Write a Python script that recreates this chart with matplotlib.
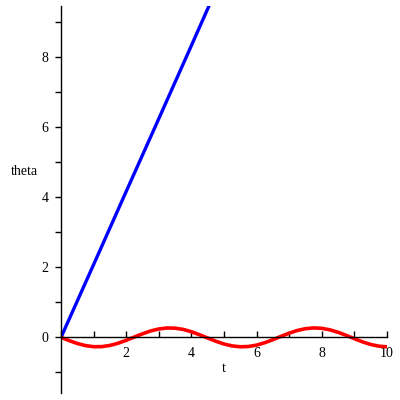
import matplotlib.pyplot as plt
from matplotlib.ticker import MultipleLocator

# red curve, every 0.25 in t
t_red = [0, 0.25, 0.5, 0.75, 1.0, 1.25, 1.5, 1.75, 2.0, 2.25, 2.5, 2.75,
         3.0, 3.25, 3.5, 3.75, 4.0, 4.25, 4.5, 4.75, 5.0, 5.25, 5.5, 5.75,
         6.0, 6.25, 6.5, 6.75, 7.0, 7.25, 7.5, 7.75, 8.0, 8.25, 8.5, 8.75,
         9.0, 9.25, 9.5, 9.75, 10.0]
theta_red = [0, -0.093, -0.175, -0.235, -0.267, -0.265, -0.231, -0.168,
             -0.084, 0.010, 0.102, 0.183, 0.240, 0.268, 0.263, 0.227,
             0.161, 0.075, -0.019, -0.111, -0.190, -0.244, -0.269, -0.261,
             -0.222, -0.153, -0.066, 0.029, 0.120, 0.197, 0.248, 0.270,
             0.258, 0.215, 0.145, 0.056, -0.038, -0.129, -0.203, -0.252,
             -0.270]

# blue curve (almost a straight line)
t_blue = [0, 1, 2, 3, 4, 4.6]
theta_blue = [0, 2.08, 4.17, 6.25, 8.34, 9.6]

x_ticks = [2, 4, 6, 8, 10]
y_ticks = [0, 2, 4, 6, 8]

plt.rcParams['font.family'] = ['Liberation Serif', 'DejaVu Serif']

fig = plt.figure(figsize=(4, 4), dpi=100)
ax = fig.add_axes([0.1525, 0.0175, 0.815, 0.9675])

ax.plot(t_blue, theta_blue, color='#0000ff', lw=2.4, solid_capstyle='butt')
ax.plot(t_red, theta_red, color='#ff0000', lw=2.6)

ax.set_xlim(0, 10)
ax.set_ylim(-1.59, 9.47)

ax.spines['top'].set_visible(False)
ax.spines['right'].set_visible(False)
ax.spines['bottom'].set_position(('data', 0))
ax.spines['left'].set_position(('data', 0))
for s in ('bottom', 'left'):
    ax.spines[s].set_linewidth(1.0)

ax.set_xticks(x_ticks)
ax.set_yticks(y_ticks)
ax.xaxis.set_minor_locator(MultipleLocator(1))
ax.yaxis.set_minor_locator(MultipleLocator(1))
ax.tick_params(axis='x', which='both', direction='in', length=4, width=1,
               pad=7, labelsize=10)
ax.tick_params(axis='y', which='both', direction='out', length=4, width=1,
               pad=5, labelsize=10)

ax.text(5, -0.9, 't', ha='center', va='center', fontsize=10)
fig.text(24 / 400, 1 - 172 / 400, 'theta', ha='center', va='center',
         fontsize=10)

fig.savefig('out.png', dpi=100)
